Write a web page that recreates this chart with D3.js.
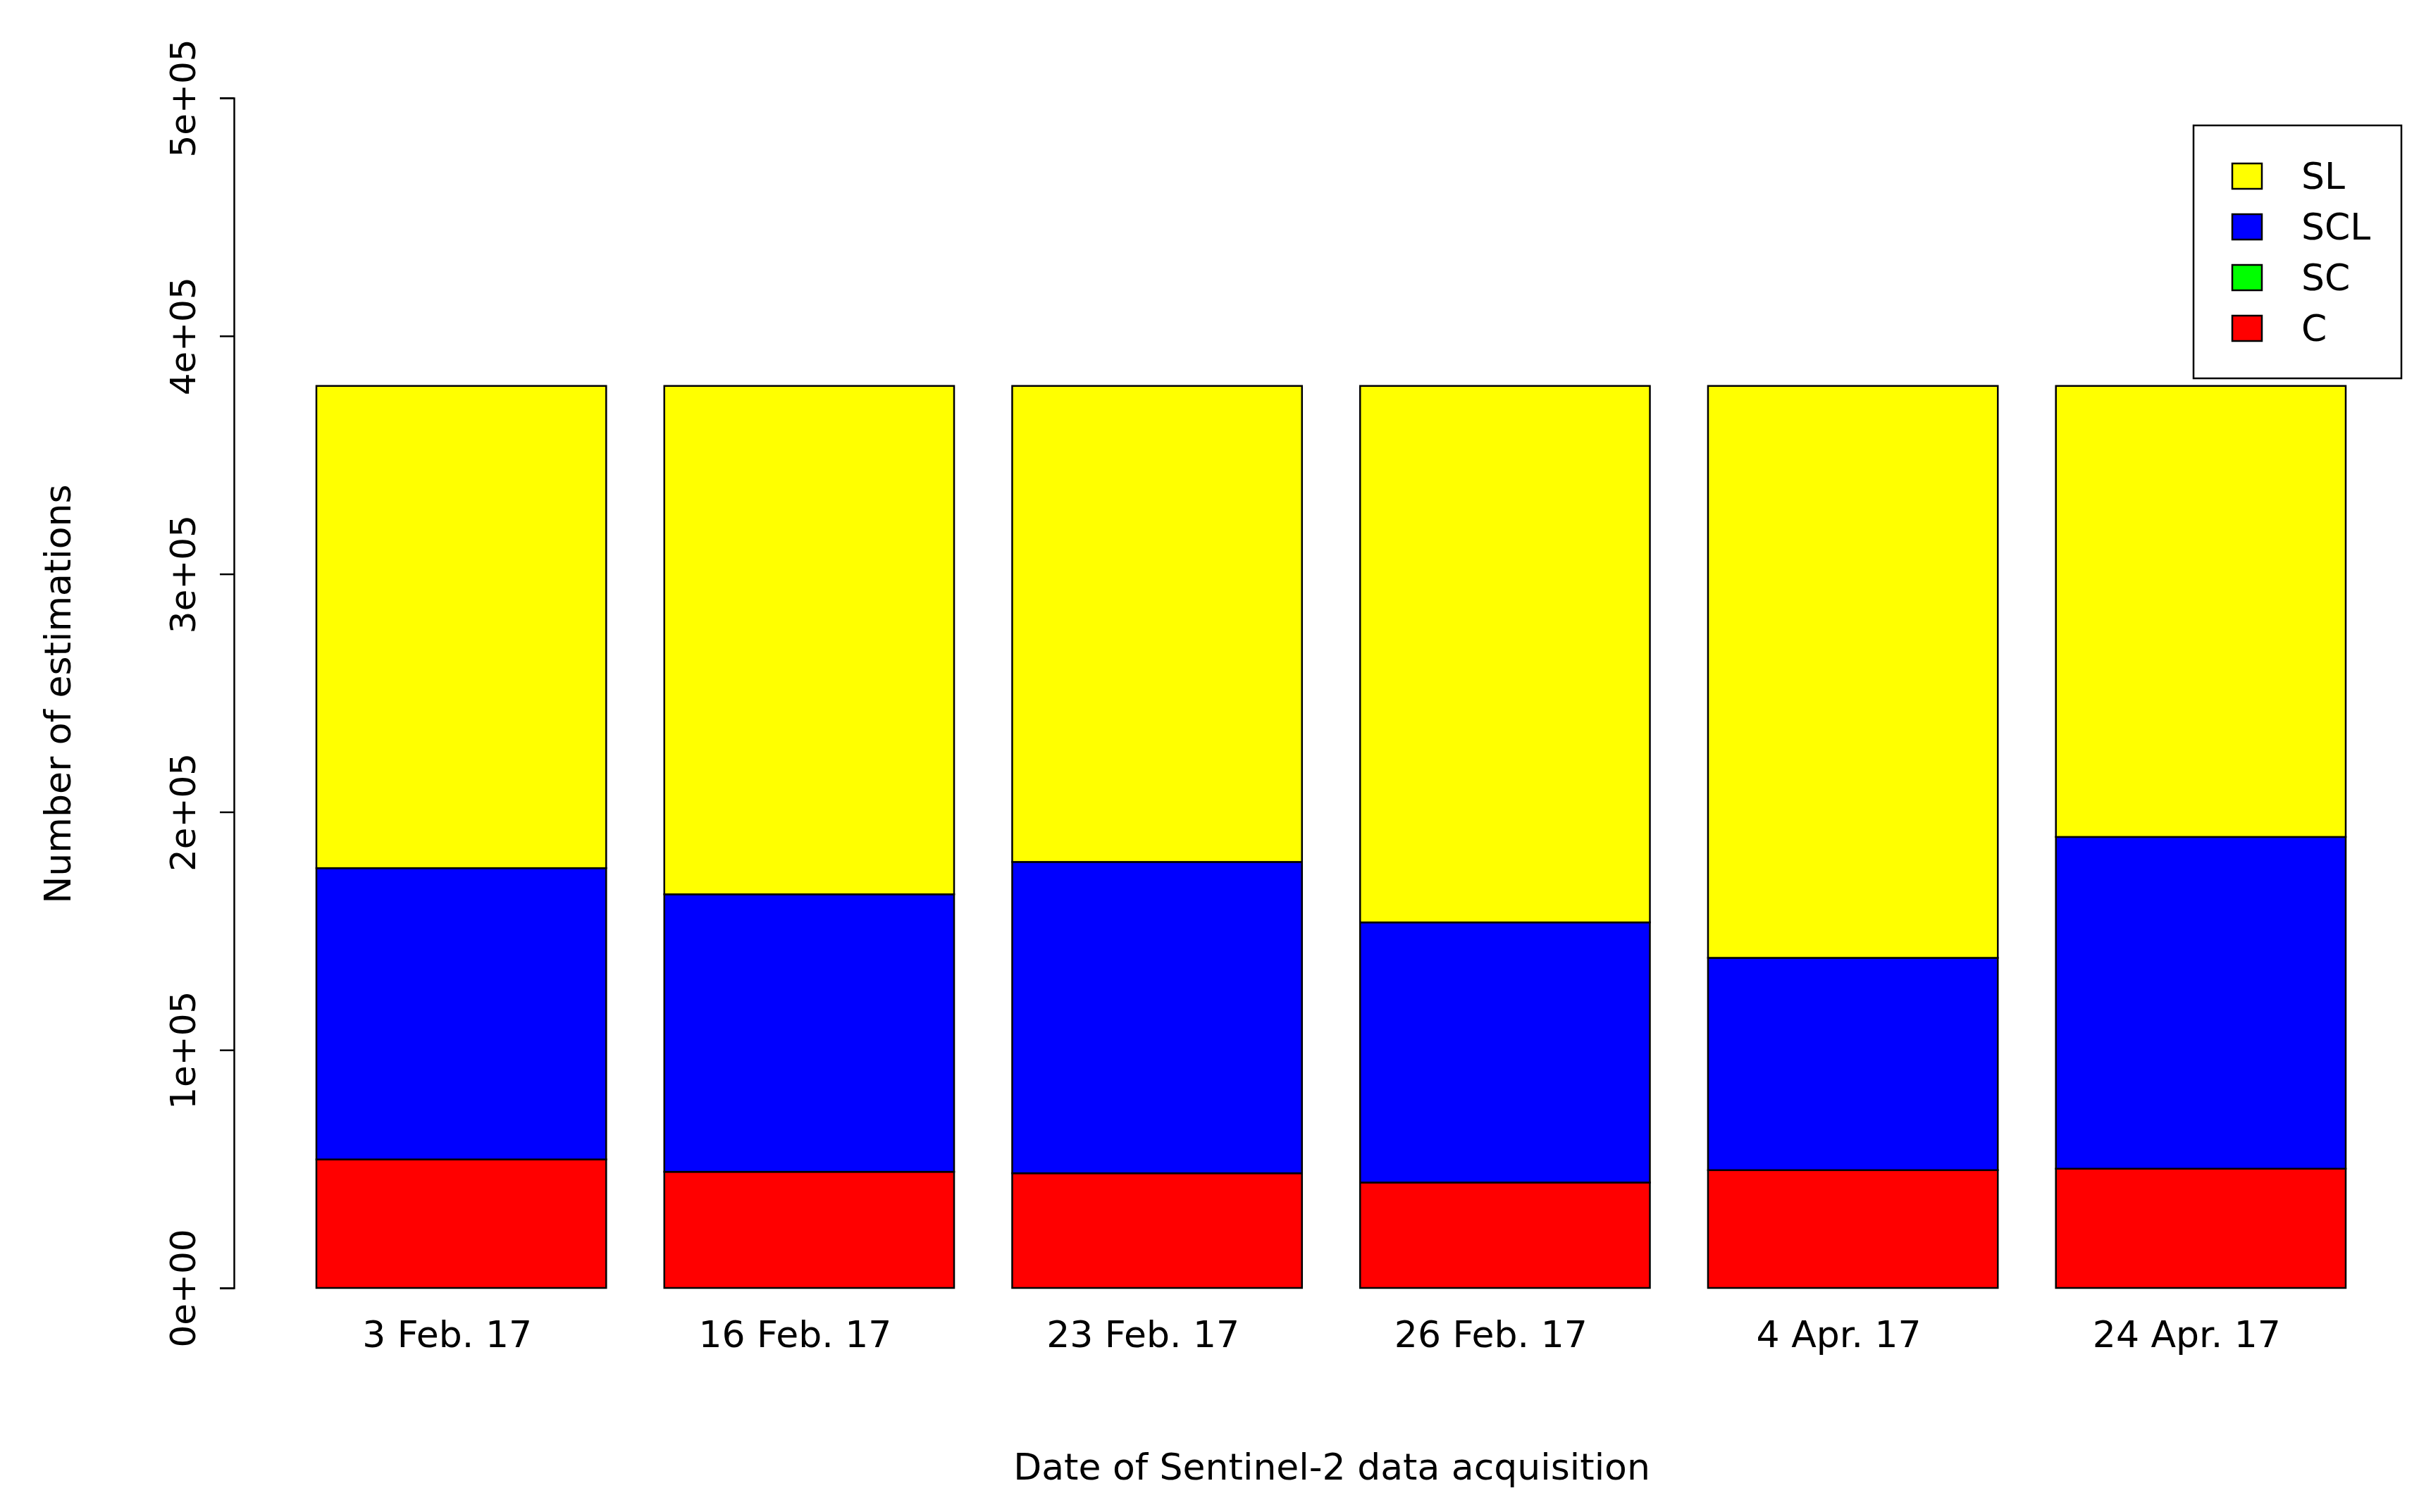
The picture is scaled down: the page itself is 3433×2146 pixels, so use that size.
<!DOCTYPE html><html><head><meta charset="utf-8"><script src="https://cdn.jsdelivr.net/npm/d3@7"></script>
<style>body{margin:0;background:#fff}svg text{font-family:"DejaVu Sans",sans-serif}</style></head><body>
<script>
const dates=["3 Feb. 17","16 Feb. 17","23 Feb. 17","26 Feb. 17","4 Apr. 17","24 Apr. 17"];
const C=[54000,48800,48200,44300,49500,50100];
const SC=[0,0,0,0,0,0];
const SCL=[122400,116600,130800,109300,89200,139400];
const SL=[202600,213600,200000,225400,240300,189500];
const yTicks=[0,100000,200000,300000,400000,500000];
const yTickLabels=["0e+00","1e+05","2e+05","3e+05","4e+05","5e+05"];
const series=[{k:"C",v:C,c:"#ff0000"},{k:"SC",v:SC,c:"#00ff00"},{k:"SCL",v:SCL,c:"#0000ff"},{k:"SL",v:SL,c:"#ffff00"}];
const W=3433,H=2146;
const svg=d3.select("body").append("svg").attr("width",W).attr("height",H);
const x=d3.scaleBand().domain(dates).range([449,3329]).paddingInner(0.167).paddingOuter(0);
const y=d3.scaleLinear().domain([0,500000]).range([1828,139]);
dates.forEach((d,i)=>{let base=0;series.forEach(s=>{const v=s.v[i];
 svg.append("rect").attr("x",x(d)).attr("width",x.bandwidth()).attr("y",y(base+v)).attr("height",y(base)-y(base+v)).attr("fill",s.c).attr("stroke","#000").attr("stroke-width",2.5);base+=v;});});
const ya=svg.append("g").attr("transform","translate(332,0)").call(d3.axisLeft(y).tickValues(yTicks).tickFormat((d,i)=>yTickLabels[i]).tickSize(20));
ya.select(".domain").attr("stroke-width",2.5);ya.selectAll("line").attr("stroke-width",2.5);
ya.selectAll("text").attr("font-size",50).attr("transform",d=>`translate(${-(332-227)+ (332-20-5)-307},0)`).each(function(d){d3.select(this).attr("x",null).attr("dy",null).attr("text-anchor","middle").attr("transform",`translate(-55,${y(d)-y(d)}) rotate(-90)`);});
ya.selectAll("text").attr("dominant-baseline","auto").attr("y",0);
dates.forEach(d=>svg.append("text").attr("x",x(d)+x.bandwidth()/2-20).attr("y",1912).attr("text-anchor","middle").attr("font-size",52).text(d));
svg.append("text").attr("x",1890).attr("y",2100).attr("text-anchor","middle").attr("font-size",52).text("Date of Sentinel-2 data acquisition");
svg.append("text").attr("transform","translate(100,985) rotate(-90)").attr("text-anchor","middle").attr("font-size",52).text("Number of estimations");
const lg=svg.append("g");
lg.append("rect").attr("x",3113).attr("y",178).attr("width",295).attr("height",359).attr("fill","#fff").attr("stroke","#000").attr("stroke-width",2.5);
[...series].reverse().forEach((s,i)=>{const cy=250+i*72;
 lg.append("rect").attr("x",3168).attr("y",cy-18).attr("width",42).attr("height",36).attr("fill",s.c).attr("stroke","#000").attr("stroke-width",2.5);
 lg.append("text").attr("x",3266).attr("y",cy+18).attr("font-size",52).text(s.k);});
</script></body></html>
